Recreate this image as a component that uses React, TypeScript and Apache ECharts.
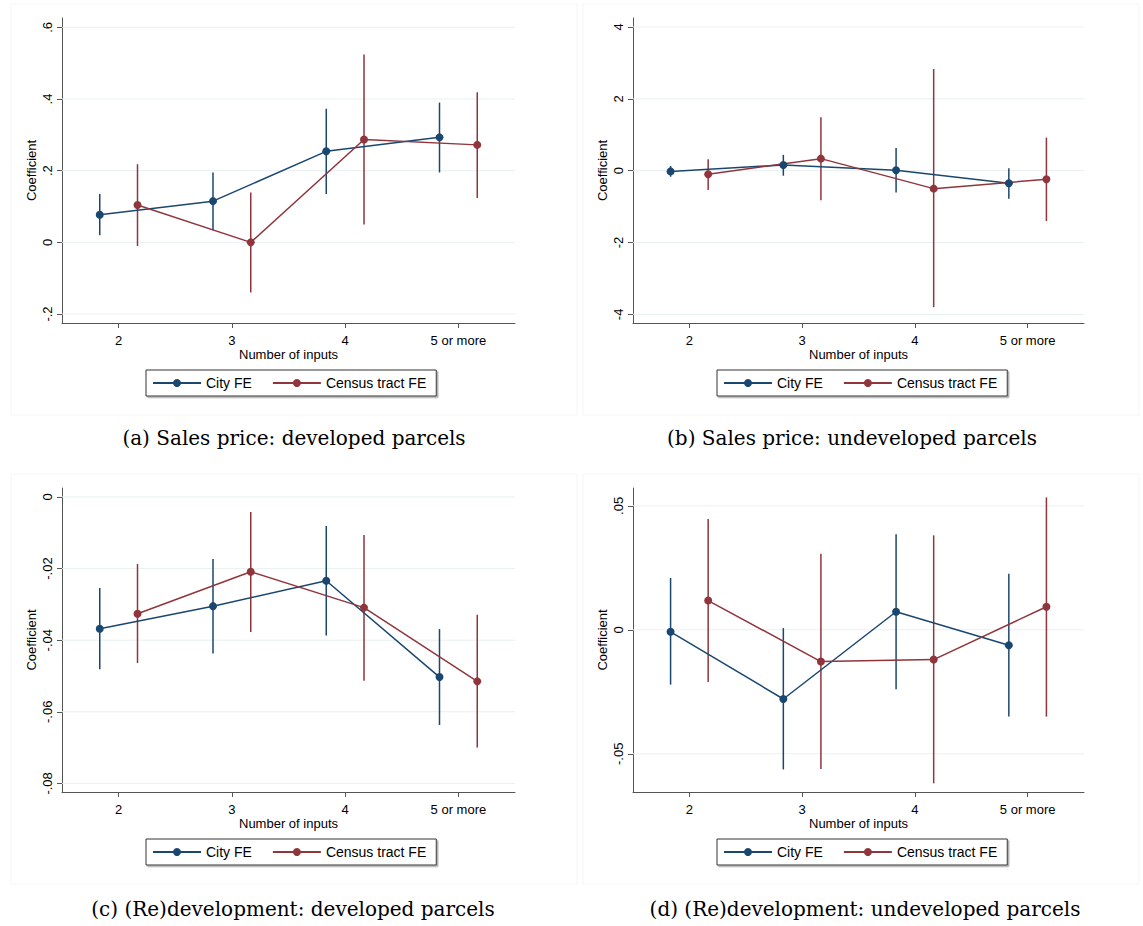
import React, { useEffect, useRef } from "react";
import * as echarts from "echarts";

// ---------- data ----------
const categories = ["2", "3", "4", "5 or more"];
const seriesNames = ["City FE", "Census tract FE"];

// Panel (a) Sales price: developed parcels
const cityA = [0.077, 0.115, 0.254, 0.293];
const cityALo = [0.02, 0.034, 0.135, 0.195];
const cityAHi = [0.135, 0.195, 0.373, 0.39];
const censusA = [0.104, 0.0, 0.287, 0.272];
const censusALo = [-0.01, -0.14, 0.05, 0.124];
const censusAHi = [0.218, 0.139, 0.524, 0.419];
const ticksA = [-0.2, 0, 0.2, 0.4, 0.6];

// Panel (b) Sales price: undeveloped parcels
const cityB = [-0.02, 0.16, 0.01, -0.35];
const cityBLo = [-0.17, -0.14, -0.61, -0.78];
const cityBHi = [0.13, 0.44, 0.63, 0.07];
const censusB = [-0.1, 0.335, -0.5, -0.24];
const censusBLo = [-0.54, -0.82, -3.8, -1.4];
const censusBHi = [0.32, 1.49, 2.83, 0.92];
const ticksB = [-4, -2, 0, 2, 4];

// Panel (c) (Re)development: developed parcels
const cityC = [-0.0368, -0.0305, -0.0234, -0.0503];
const cityCLo = [-0.0481, -0.0437, -0.0387, -0.0637];
const cityCHi = [-0.0254, -0.0173, -0.0081, -0.0369];
const censusC = [-0.0326, -0.0209, -0.0309, -0.0515];
const censusCLo = [-0.0464, -0.0377, -0.0513, -0.07];
const censusCHi = [-0.0187, -0.0042, -0.0106, -0.0329];
const ticksC = [-0.08, -0.06, -0.04, -0.02, 0];

// Panel (d) (Re)development: undeveloped parcels
const cityD = [-0.0008, -0.0279, 0.0073, -0.0062];
const cityDLo = [-0.0221, -0.0563, -0.024, -0.035];
const cityDHi = [0.0209, 0.0007, 0.0385, 0.0226];
const censusD = [0.0118, -0.0128, -0.012, 0.0093];
const censusDLo = [-0.021, -0.0561, -0.0619, -0.035];
const censusDHi = [0.0447, 0.0307, 0.0381, 0.0534];
const ticksD = [-0.05, 0, 0.05];

const captions = [
  "(a) Sales price: developed parcels",
  "(b) Sales price: undeveloped parcels",
  "(c) (Re)development: developed parcels",
  "(d) (Re)development: undeveloped parcels",
];

// ---------- styling / layout ----------
const NAVY = "#1a476f";
const MAROON = "#90353b";
const colors = [NAVY, MAROON];
const OFFSET = 1 / 6;
const X_MIN = 1.5;
const X_MAX = 5.5;
const SANS = '"Liberation Sans", Arial, sans-serif';

const panels = [
  {
    est: [cityA, censusA], lo: [cityALo, censusALo], hi: [cityAHi, censusAHi],
    ticks: ticksA, yMin: -0.225, yMax: 0.626,
    grid: { left: 62, top: 18, width: 453, height: 305 },
    legend: { left: 146, top: 370 },
    rect: { x: 11, y: 4, width: 566, height: 411 },
    caption: { x: 294, y: 438 },
  },
  {
    est: [cityB, censusB], lo: [cityBLo, censusBLo], hi: [cityBHi, censusBHi],
    ticks: ticksB, yMin: -4.24, yMax: 4.25,
    grid: { left: 633, top: 18, width: 451, height: 305 },
    legend: { left: 717, top: 370 },
    rect: { x: 583, y: 4, width: 556, height: 411 },
    caption: { x: 852, y: 438 },
  },
  {
    est: [cityC, censusC], lo: [cityCLo, censusCLo], hi: [cityCHi, censusCHi],
    ticks: ticksC, yMin: -0.0824, yMax: 0.0025,
    grid: { left: 62, top: 488, width: 453, height: 304 },
    legend: { left: 146, top: 839 },
    rect: { x: 11, y: 474, width: 566, height: 410 },
    caption: { x: 293, y: 909 },
  },
  {
    est: [cityD, censusD], lo: [cityDLo, censusDLo], hi: [cityDHi, censusDHi],
    ticks: ticksD, yMin: -0.0654, yMax: 0.0572,
    grid: { left: 633, top: 488, width: 451, height: 304 },
    legend: { left: 717, top: 839 },
    rect: { x: 583, y: 474, width: 556, height: 410 },
    caption: { x: 865, y: 909 },
  },
];

const stataFmt = (v: number) => {
  const s = String(Number(v.toFixed(6)));
  return s.replace(/^(-?)0\./, "$1.");
};

const catX = (i: number, s: number) => i + 2 + (s === 0 ? -OFFSET : OFFSET);
const xTickValues = categories.map((_, i) => i + 2);

function buildOption() {
  const grid: any[] = [];
  const xAxis: any[] = [];
  const yAxis: any[] = [];
  const series: any[] = [];
  const legend: any[] = [];
  const graphic: any[] = [];

  panels.forEach((p, pi) => {
    graphic.push({
      type: "rect",
      shape: p.rect,
      style: { fill: "#ffffff", stroke: "#f5f5f5", lineWidth: 1 },
      z: -10,
      silent: true,
    });
    graphic.push({
      type: "text",
      x: p.caption.x,
      y: p.caption.y,
      style: {
        text: captions[pi],
        font: '20px "DejaVu Serif", serif',
        fill: "#000",
        align: "center",
        verticalAlign: "middle",
      },
    });

    grid.push({ ...p.grid, containLabel: false });
    xAxis.push({
      type: "value",
      gridIndex: pi,
      min: X_MIN,
      max: X_MAX,
      name: "Number of inputs",
      nameLocation: "middle",
      nameGap: 24,
      nameTextStyle: { fontFamily: SANS, fontSize: 13, color: "#000" },
      axisLine: { show: true, onZero: false, lineStyle: { color: "#555", width: 1 } },
      axisTick: { show: true, length: 5, customValues: xTickValues, lineStyle: { color: "#555" } },
      axisLabel: {
        customValues: xTickValues,
        formatter: (v: number) => categories[Math.round(v) - 2] ?? "",
        fontFamily: SANS,
        fontSize: 13,
        color: "#000",
        margin: 11,
      },
      splitLine: { show: false },
    });
    yAxis.push({
      type: "value",
      gridIndex: pi,
      min: p.yMin,
      max: p.yMax,
      name: "Coefficient",
      nameLocation: "middle",
      nameGap: 24,
      nameTextStyle: { fontFamily: SANS, fontSize: 13, color: "#000" },
      axisLine: { show: true, onZero: false, lineStyle: { color: "#555", width: 1 } },
      axisTick: { show: true, length: 5, customValues: p.ticks, lineStyle: { color: "#555" } },
      axisLabel: {
        customValues: p.ticks,
        formatter: (v: number) => stataFmt(v),
        rotate: 90,
        fontFamily: SANS,
        fontSize: 13,
        color: "#000",
        margin: 8,
      },
      splitLine: { show: false },
    });

    // gridlines
    series.push({
      type: "custom",
      name: "grid" + pi,
      xAxisIndex: pi,
      yAxisIndex: pi,
      silent: true,
      z: 1,
      data: p.ticks.map((t) => [X_MIN, t]),
      encode: { x: 0, y: 1 },
      renderItem: (params: any, api: any) => {
        const cs = params.coordSys;
        const y = api.coord([X_MIN, api.value(1)])[1];
        return {
          type: "line",
          shape: { x1: cs.x, y1: y, x2: cs.x + cs.width, y2: y },
          style: { stroke: "#e8f0f1", lineWidth: 1 },
        };
      },
    });

    [0, 1].forEach((s) => {
      const color = colors[s];
      // CI bars
      series.push({
        type: "custom",
        name: seriesNames[s] + " CI " + pi,
        xAxisIndex: pi,
        yAxisIndex: pi,
        silent: true,
        z: 2,
        data: categories.map((_, i) => [catX(i, s), p.lo[s][i], p.hi[s][i]]),
        encode: { x: 0, y: [1, 2] },
        renderItem: (params: any, api: any) => {
          const x = api.value(0);
          const a = api.coord([x, api.value(1)]);
          const b = api.coord([x, api.value(2)]);
          return {
            type: "line",
            shape: { x1: a[0], y1: a[1], x2: b[0], y2: b[1] },
            style: { stroke: color, lineWidth: 1.5 },
          };
        },
      });
      // estimates
      series.push({
        type: "line",
        name: seriesNames[s],
        xAxisIndex: pi,
        yAxisIndex: pi,
        z: 3,
        data: categories.map((_, i) => [catX(i, s), p.est[s][i]]),
        symbol: "circle",
        symbolSize: 8,
        showSymbol: true,
        itemStyle: { color },
        lineStyle: { color, width: 1.5 },
      });
    });

    legend.push({
      data: seriesNames,
      left: p.legend.left,
      top: p.legend.top,
      orient: "horizontal",
      itemWidth: 48,
      itemHeight: 10,
      itemGap: 20,
      padding: [6, 10, 6, 6],
      borderColor: "#333",
      borderWidth: 1,
      backgroundColor: "#fff",
      shadowColor: "#aaa",
      shadowOffsetX: 1.5,
      shadowOffsetY: 1.5,
      shadowBlur: 0,
      selectedMode: false,
      textStyle: { fontFamily: SANS, fontSize: 14, color: "#000" },
    });
  });

  return {
    animation: false,
    backgroundColor: "#ffffff",
    grid,
    xAxis,
    yAxis,
    series,
    legend,
    graphic,
  };
}

export default function App() {
  const ref = useRef<HTMLDivElement>(null);
  useEffect(() => {
    if (!ref.current) return;
    const chart = echarts.init(ref.current, undefined, { renderer: "svg" });
    chart.setOption(buildOption() as any);
    return () => chart.dispose();
  }, []);
  return (
    <div
      ref={ref}
      style={{ position: "absolute", left: 0, top: 0, width: 1143, height: 926 }}
    />
  );
}
